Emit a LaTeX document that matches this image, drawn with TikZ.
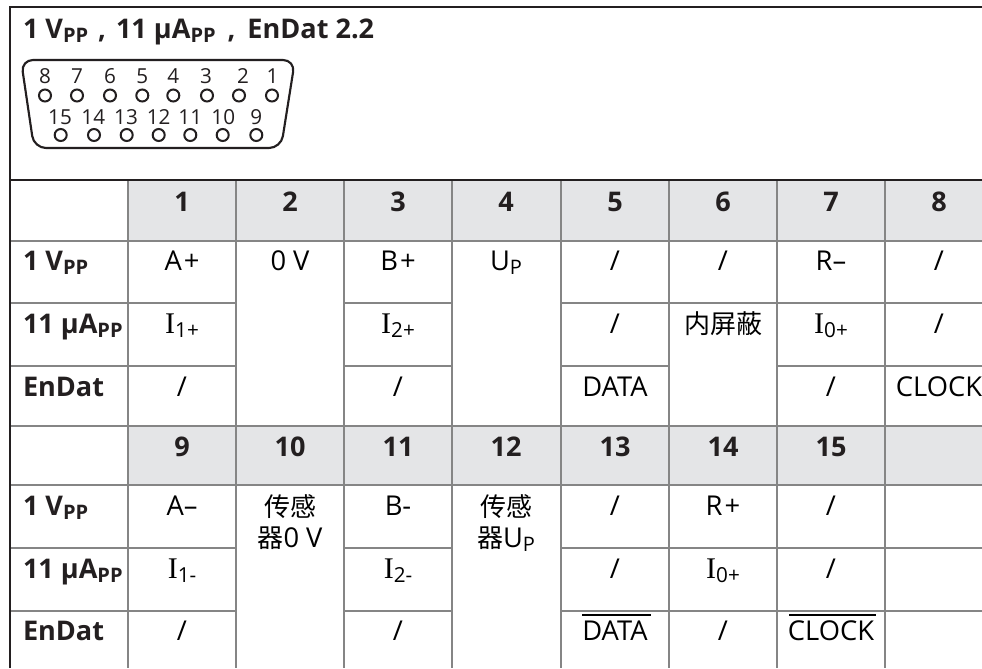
\documentclass[tikz,border=0pt]{standalone}
\usepackage{fontspec}
\setmainfont{Open Sans}
\newfontfamily\cjkf{Noto Sans CJK SC}
\newfontfamily\serf{Liberation Serif}
\definecolor{hdr}{HTML}{E4E5E7}
\definecolor{grid}{HTML}{858585}
\definecolor{ink}{HTML}{231F20}
\newcommand{\bsz}{\fontsize{20.3}{24}\selectfont}
\newcommand{\sub}[1]{\raisebox{-3pt}{\fontsize{15}{17}\selectfont #1}}
\newcommand{\bPP}{\sub{\bfseries PP}}
\newcommand{\ii}[1]{{\serf\fontsize{22.5}{24}\selectfont I}\raisebox{-3pt}{\fontsize{15.5}{17}\selectfont #1}}
\newcommand{\zh}[1]{{\cjkf\fontsize{19.5}{24}\selectfont #1}}
\tikzset{
 x=.75pt,y=-.75pt,
 gridline/.style={draw=grid,line width=1.2pt},
 darkline/.style={draw=ink,line width=1.5pt},
 txt/.style={anchor=base,inner sep=0pt,outer sep=0pt,font=\fontsize{20.5}{24}\selectfont,text=black},
 hd/.style={anchor=base,inner sep=0pt,outer sep=0pt,font=\bsz\bfseries,text=ink},
 lab/.style={anchor=base west,inner sep=0pt,outer sep=0pt,font=\bsz\bfseries,text=ink},
 pin/.style={circle,draw=ink,line width=1.5pt,minimum size=12*.75pt,inner sep=0pt,fill=white},
 pnum/.style={anchor=center,inner sep=0pt,font=\fontsize{15.5}{18}\selectfont,text=ink},
 over/.style={draw=black,line width=.8pt}
}
\begin{document}
\begin{tikzpicture}
\useasboundingbox (0,0) rectangle (982,668);
\clip (0,0) rectangle (982,668);
\fill[white] (0,0) rectangle (982,668);
% header fills
\fill[hdr] (128,180) rectangle (982,241);
\fill[hdr] (128,426) rectangle (982,485);
% vertical grid lines
\foreach \x in {128,236,344,452,561,669,777,885}
  \draw[gridline] (\x,180) -- (\x,668);
% horizontal grid lines
\foreach \y in {241,426,485} \draw[gridline] (10,\y) -- (982,\y);
\foreach \y in {303,548}{
  \draw[gridline] (10,\y) -- (236,\y);
  \draw[gridline] (344,\y) -- (452,\y);
  \draw[gridline] (561,\y) -- (982,\y);
}
\foreach \y in {366,611}{
  \draw[gridline] (10,\y) -- (236,\y);
  \draw[gridline] (344,\y) -- (452,\y);
  \draw[gridline] (561,\y) -- (\ifnum\y=366 669\else 982\fi,\y);
}
\draw[gridline] (777,366) -- (982,366);
% dark frame
\draw[darkline] (10,668) -- (10,7) -- (982,7);
\draw[darkline] (10,180) -- (982,180);
% title
\node[lab] (title) at (23,38) {1 V\bPP\hspace{7.5pt},\hspace{7.5pt}11 µA\bPP\hspace{9pt},\hspace{9pt}EnDat 2.2};
% connector
\draw[draw=ink,line width=1.6pt,rounded corners=12*.75pt] (21,60) -- (295,60) -- (281,148) -- (34,148) -- cycle;
\foreach \n/\x in {8/45,7/77,6/110,5/142.3,4/173.3,3/207,2/239,1/272}{
  \node[pin] (p\n) at (\x,95.5) {};
}
\foreach \n/\x in {15/60.7,14/94,13/126.7,12/158.7,11/190.3,10/222.7,9/256.3}{
  \node[pin] (p\n) at (\x,135) {};
}
\foreach \n/\x in {8/45,7/77,6/110,5/142.3,4/173.3,3/206,2/243,1/272.5}{
  \node[pnum] (n\n) at (\x,76) {\n};
}
\foreach \n/\x in {15/60,14/93.3,13/126,12/158.7,11/190.3,10/223.3,9/256.3}{
  \node[pnum] (n\n) at (\x,117) {\n};
}
% header numbers
\foreach \n/\x in {1/182,2/290,3/398,4/506,5/615,6/723,7/831,8/939}
  \node[hd] (h\n) at (\x,211) {\n};
\foreach \n/\x in {9/182,10/290,11/398,12/506,13/615,14/723,15/831}
  \node[hd] (h\n) at (\x,456) {\n};
% row labels
\node[lab] (la1) at (23,270) {1 V\bPP};
\node[lab] (la2) at (23,333) {11 µA\bPP};
\node[lab] (la3) at (23,396) {EnDat};
\node[lab] (lb1) at (23,515) {1 V\bPP};
\node[lab] (lb2) at (23,578) {11 µA\bPP};
\node[lab] (lb3) at (23,640) {EnDat};
% block 1
\node[txt] (a1) at (182,270) {A\hspace{1.5pt}+};
\node[txt] (a2) at (290,270) {0 V};
\node[txt] (a3) at (398,270) {B\hspace{1.5pt}+};
\node[txt] (a4) at (506,270) {U\sub{P}};
\node[txt] (a5) at (615,270) {/};
\node[txt] (a6) at (723,270) {/};
\node[txt] (a7) at (831,270) {R–};
\node[txt] (a8) at (939,270) {/};
\node[txt] (b1) at (182,333) {\ii{1+}};
\node[txt] (b3) at (398,333) {\ii{2+}};
\node[txt] (b5) at (615,333) {/};
\node[txt] (b6) at (723,333) {\zh{内屏蔽}};
\node[txt] (b7) at (831,333) {\ii{0+}};
\node[txt] (b8) at (939,333) {/};
\node[txt] (c1) at (182,396) {/};
\node[txt] (c3) at (398,396) {/};
\node[txt] (c5) at (615,396) {DATA};
\node[txt] (c7) at (831,396) {/};
\node[txt] (c8) at (939,396) {CLOCK};
% block 2
\node[txt] (d1) at (182,515) {A–};
\node[txt] (d2a) at (290,516) {\zh{传感}};
\node[txt] (d2b) at (290,547) {\zh{器}0 V};
\node[txt] (d3) at (398,515) {B-};
\node[txt] (d4a) at (506,516) {\zh{传感}};
\node[txt] (d4b) at (506,547) {\zh{器}U\sub{P}};
\node[txt] (d5) at (615,515) {/};
\node[txt] (d6) at (723,515) {R\hspace{1.5pt}+};
\node[txt] (d7) at (831,515) {/};
\node[txt] (e1) at (182,578) {\ii{1-}};
\node[txt] (e3) at (398,578) {\ii{2-}};
\node[txt] (e5) at (615,578) {/};
\node[txt] (e6) at (723,578) {\ii{0+}};
\node[txt] (e7) at (831,578) {/};
\node[txt] (f1) at (182,640) {/};
\node[txt] (f3) at (398,640) {/};
\node[txt] (f5) at (615,640) {DATA};
\node[txt] (f6) at (723,640) {/};
\node[txt] (f7) at (831,640) {CLOCK};
\draw[over] (582,615) -- (651,615);
\draw[over] (789,615) -- (876,615);
\end{tikzpicture}
\end{document}
